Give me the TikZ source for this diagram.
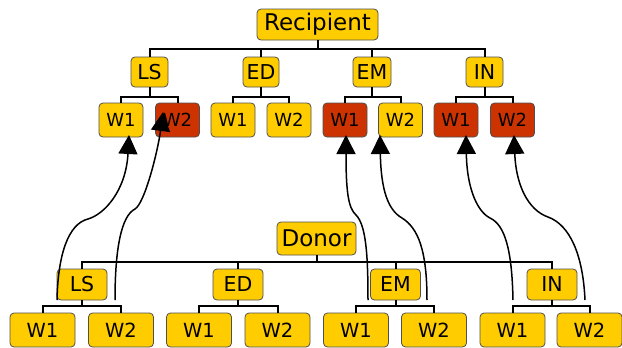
\documentclass[tikz,border=0pt]{standalone}
\usepackage{fontspec}
\setmainfont{DejaVu Sans}
\usetikzlibrary{arrows.meta}

\definecolor{boxyellow}{RGB}{255,204,0}
\definecolor{boxred}{RGB}{204,51,0}
\definecolor{boxline}{RGB}{80,80,80}

\begin{document}
\begin{tikzpicture}[x=1pt,y=-1pt,
  box/.style={draw=boxline, line width=0.8pt, rounded corners=4pt,
    fill=boxyellow, inner sep=0pt, text=black},
  hot/.style={fill=boxred},
  rootbox/.style={box, font=\fontsize{23}{25}\selectfont},
  groupbox/.style={box, font=\fontsize{20.5}{22}\selectfont,
    minimum height=30pt},
  rwbox/.style={box, font=\fontsize{18}{20}\selectfont,
    minimum width=44pt, minimum height=34pt},
  dgroupbox/.style={box, font=\fontsize{20.5}{22}\selectfont,
    minimum width=50pt, minimum height=31pt},
  dwbox/.style={box, font=\fontsize{19.5}{21}\selectfont,
    minimum width=65pt, minimum height=34pt},
  tree/.style={draw=black, line width=2pt},
  flow/.style={draw=black, line width=1.5pt,
    -{Triangle[length=19pt,width=19pt]}}]

\fill[white] (0,0) rectangle (622,348);
\useasboundingbox (0,0) rectangle (622,348);

% ---- recipient hierarchy ----
\node[rootbox, minimum width=121pt, minimum height=31pt] (rec) at (317.5,24.5) {Recipient};

\node[groupbox, minimum width=37pt] (rLS) at (149.5,72) {LS};
\node[groupbox, minimum width=36pt] (rED) at (261,72) {ED};
\node[groupbox, minimum width=38pt] (rEM) at (372,72) {EM};
\node[groupbox, minimum width=37pt] (rIN) at (484.5,72) {IN};

\node[rwbox]      (rLSa) at (121,120)   {W1};
\node[rwbox, hot] (rLSb) at (177.5,120) {W2};
\node[rwbox]      (rEDa) at (233,120)   {W1};
\node[rwbox]      (rEDb) at (289,120)   {W2};
\node[rwbox, hot] (rEMa) at (345,120)   {W1};
\node[rwbox]      (rEMb) at (400.5,120) {W2};
\node[rwbox, hot] (rINa) at (456,120)   {W1};
\node[rwbox, hot] (rINb) at (512.5,120) {W2};

\foreach \g in {rLS,rED,rEM,rIN}
  \draw[tree] (rec.south) -- ++(0,8.5) -| (\g.north);
\foreach \g in {rLS,rED,rEM,rIN}{
  \draw[tree] (\g.south) -- ++(0,10) -| (\g a.north);
  \draw[tree] (\g.south) -- ++(0,10) -| (\g b.north);
}

% ---- donor hierarchy ----
\node[rootbox, minimum width=79pt, minimum height=33pt] (don) at (316.5,238.5) {Donor};

\node[dgroupbox] (dLS) at (82,284.5)    {LS};
\node[dgroupbox] (dED) at (238,284.5)   {ED};
\node[dgroupbox] (dEM) at (395.5,284.5) {EM};
\node[dgroupbox] (dIN) at (552,284.5)   {IN};

\node[dwbox] (dLSa) at (42.5,330)  {W1};
\node[dwbox] (dLSb) at (121,330)   {W2};
\node[dwbox] (dEDa) at (199,330)   {W1};
\node[dwbox] (dEDb) at (277.5,330) {W2};
\node[dwbox] (dEMa) at (356,330)   {W1};
\node[dwbox] (dEMb) at (434,330)   {W2};
\node[dwbox] (dINa) at (512.5,330) {W1};
\node[dwbox] (dINb) at (589.5,330) {W2};

\foreach \g in {dLS,dED,dEM,dIN}
  \draw[tree] (don.south) -- ++(0,7) -| (\g.north);
\foreach \g in {dLS,dED,dEM,dIN}{
  \draw[tree] (\g.south) -- ++(0,6) -| (\g a.north);
  \draw[tree] (\g.south) -- ++(0,6) -| (\g b.north);
}

% ---- transfer links: start points, bends and arrow tips ----
\coordinate (s1) at (57,300);  \coordinate (k1) at (88,219);  \coordinate (t1) at (129,135);
\coordinate (s2) at (115,300); \coordinate (k2) at (135,209); \coordinate (t2) at (163,112);
\coordinate (s3) at (368,300); \coordinate (k3) at (356,215); \coordinate (t3) at (346,135);
\coordinate (s4) at (427,300); \coordinate (k4) at (402,218); \coordinate (t4) at (380,135);
\coordinate (s5) at (513,300); \coordinate (k5) at (490,218); \coordinate (t5) at (466,135);
\coordinate (s6) at (585,300); \coordinate (k6) at (548,217); \coordinate (t6) at (514,135);

\draw[flow] (s1) .. controls (58,255) and (68,224) .. (k1)
                 .. controls (105,214) and (126,190) .. (t1);
\draw[flow] (s2) .. controls (115,250) and (121,216) .. (k2)
                 .. controls (145,203) and (158,150) .. (t2);
\draw[flow] (s3) .. controls (368,255) and (366,225) .. (k3)
                 .. controls (348,208) and (346,190) .. (t3);
\draw[flow] (s4) .. controls (427,250) and (418,228) .. (k4)
                 .. controls (388,210) and (381,190) .. (t4);
\draw[flow] (s5) .. controls (512,250) and (505,225) .. (k5)
                 .. controls (478,212) and (467,190) .. (t5);
\draw[flow] (s6) .. controls (583,255) and (570,225) .. (k6)
                 .. controls (528,210) and (516,185) .. (t6);

\end{tikzpicture}
\end{document}
